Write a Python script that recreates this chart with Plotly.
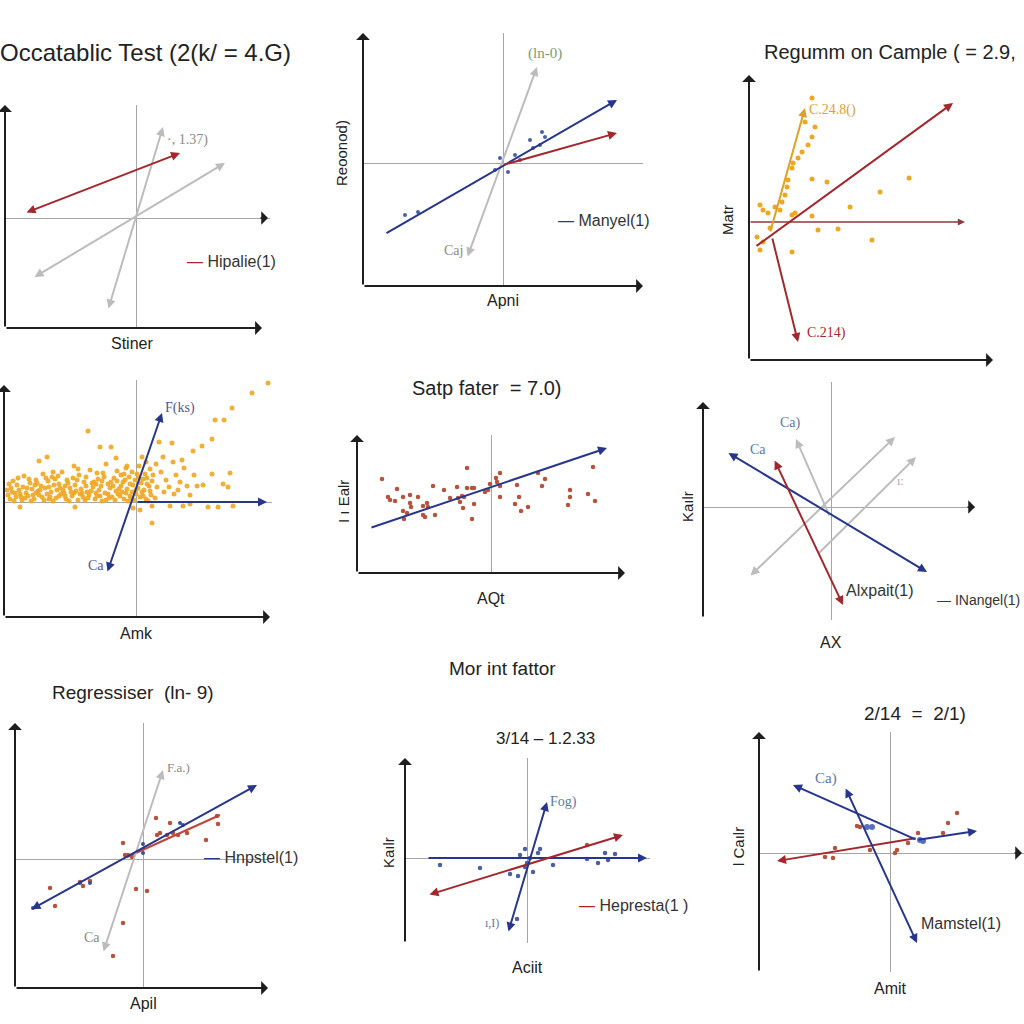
import plotly.graph_objects as go

W = H = 1024

# ---------------- DATA (each panel in its own units, origin at the crosshair) ----------------
# Panel 1
p1_red = [-111, 5, 44, 65]
p1_gray_a = [-28, -92, 27, 91]
p1_gray_b = [-103, -60, 89, 55]

# Panel 2
p2_blue = [-118, -71, 114, 63]
p2_red = [0, -2, 114, 30]
p2_gray = [-36, -95, 34, 96]
p2_pts_x = [-98, -85, 27, 37, 30, 42, 12, -3, 5, -8, 17, 39]
p2_pts_y = [-52, -49, 23, 18, 15, 26, 8, 5, -9, -7, 3, 31]

# Panel 3
p3_red_a = [-15, -25, 183, 119]
p3_red_b = [2, -15, 28, -120]
p3_red_h = [-21, 0, 195, 0]
p3_orange = [0, -11, 35, 114]
p3_pts_x = [42, 45, 42, 38, 32, 23, 22, 18, 17, 15, 42, 57, 110, 139, 80, -10, -7, -2, 10, 22,
            25, 42, 48, 68, 102, 22, -10, -7, 0, -13, 28, 35, 12, 5]
p3_pts_y = [124, 95, 85, 77, 70, 59, 54, 42, 35, 27, 43, 40, 30, 44, 15, 17, 12, 9, 12, 7,
            9, 6, -8, -7, -18, -30, -28, -20, -6, -15, 64, 100, 20, 15]

# Panel 4
p4_blue_h = [0, 0, 131, 0]
p4_blue_d = [-29, -71, 26, 89]
p4_points = [
    (-126, 3), (-120, 5), (-114, 2), (-108, 6), (-102, 3), (-97, 7), (-92, 2), (-86, 5), (-80, 4),
    (-75, 8), (-70, 3), (-64, 6), (-58, 2), (-53, 5), (-47, 7), (-41, 3), (-36, 6), (-30, 2),
    (-24, 5), (-18, 8), (-12, 3), (-6, 6), (-2, 2), (4, 5), (10, 3), (15, 7),
    (-124, 10), (-117, 12), (-110, 9), (-104, 13), (-98, 11), (-91, 14), (-85, 10), (-79, 12),
    (-72, 9), (-66, 14), (-60, 11), (-55, 13), (-49, 10), (-43, 15), (-37, 12), (-31, 9),
    (-26, 14), (-20, 11), (-15, 16), (-9, 13), (-4, 10), (2, 14), (8, 12), (13, 16),
    (-119, 17), (-106, 19), (-95, 16), (-88, 21), (-77, 18), (-69, 22), (-61, 17), (-52, 20),
    (-44, 19), (-38, 23), (-28, 18), (-22, 24), (-13, 20), (-7, 25), (-1, 22), (5, 19), (11, 24),
    (16, 21), (-112, 26), (-93, 28), (-74, 30), (-57, 27), (-46, 32), (-33, 29), (-19, 31),
    (-10, 34), (-4, 30), (3, 36), (9, 28), (14, 33),
    (132, 119), (116, 109), (96, 94), (79, 82), (88, 82), (76, 63), (66, 56), (57, 51), (46, 42),
    (37, 40), (27, 45), (23, 60), (36, 59), (94, 29), (92, 15), (87, 18), (76, 28), (67, 17),
    (61, 16), (51, 16), (42, 12), (54, 7),
    (-48, 71), (-36, 55), (-25, 55), (-97, 41), (-89, 45), (-83, 30), (-62, 36), (-39, 29), (-9, 36),
    (16, -21), (-61, -5), (-116, -5), (34, -4), (47, -4), (54, -2), (72, -5), (82, -5), (97, -4),
    (16, -4), (-3, -6), (4, -8),
    (25, 30), (30, 22), (40, 27), (48, 34), (20, 38), (33, 15), (44, 20), (58, 27), (28, 10), (38, 8),
    (-128, 7), (-122, 1), (-116, 8), (-111, 4), (-105, 1), (-100, 9), (-94, 5), (-89, 8), (-83, 1),
    (-77, 6), (-73, 12), (-67, 1), (-62, 9), (-56, 8), (-51, 2), (-45, 11), (-39, 6), (-34, 1),
    (-28, 8), (-21, 2), (-16, 6), (-10, 9), (-8, 1), (0, 8), (6, 10), (12, 1), (-125, 14),
    (-113, 15), (-101, 17), (-87, 15), (-81, 23), (-71, 16), (-63, 24), (-50, 16), (-40, 18),
    (-34, 21), (-25, 20), (-17, 13), (-11, 22), (-3, 17), (7, 23), (-58, 33), (-84, 25),
    (-100, 22), (-30, 38), (-15, 27), (1, 28), (10, 40), (6, 45), (-20, 44),
    (-129, 12), (-127, 18), (-123, 21), (-121, 9), (-118, 24), (-115, 5), (-109, 14), (-107, 23),
    (-103, 7), (-99, 19), (-96, 12), (-90, 24), (-87, 3), (-82, 17), (-78, 26), (-76, 14), (-71, 6),
    (-68, 19), (-65, 10), (-59, 22), (-54, 9), (-50, 25), (-48, 4), (-42, 20), (-40, 9), (-35, 16),
    (-32, 25), (-27, 4), (-23, 16), (-19, 21), (-14, 10), (-12, 28), (-6, 18), (-5, 4), (0, 12),
    (3, 24), (7, 6), (11, 18), (14, 11), (17, 27), (19, 4), (21, 15),
]
p4_pts_x = [p[0] for p in p4_points]
p4_pts_y = [p[1] for p in p4_points]

# Panel 5
p5_blue = [-121, -41, 116, 39]
p5_pts_x = [-109, -94, -103, -101, -96, -88, -81, -81, -80, -73, -88, -84, -87, -68, -64, -63, -68,
            -66, -56, -58, -47, -34, -41, -33, -29, -31, -27, -24, -24, -19, -17, -17, -28, -19,
            -6, -3, -1, 5, 9, 6, 9, 9, 26, 28, 24, 30, 37, 47, 54, 51, 79, 79, 77, 97, 102, 104]
p5_pts_y = [8, -2, -10, -13, -14, -10, -8, -16, -20, -10, -24, -26, -32, -19, -16, -20, -28,
            -30, -28, 1, -3, 0, -11, -11, -9, -15, -10, -1, 19, -1, -1, -17, -21, -32,
            -5, -3, 3, 9, 14, 5, 1, -10, 2, -10, -17, -24, -20, 14, 8, 1, -3, -10, -18, -7, 20, -14]

# Panel 6
p6_blue = [-104, 55, 96, -65]
p6_red = [-57, 48, 12, -98]
p6_gray_a = [-1, -10, -35, 68]
p6_gray_b = [-82, -70, 64, 70]
p6_gray_c = [-14, -48, 85, 50]

# Panel 7
p7_blue = [-113, -51, 114, 74]
p7_red = [-16, 2, 77, 44]
p7_gray = [-40, -94, 20, 89]
p7_red_x = [-93, -88, -60, -63, -53, -20, -18, -15, -11, -7, 4, -20, -30, 13, 14, 17, 24, 30, 35,
            63, 74, 75, 44, 27]
p7_red_y = [-29, -47, -27, -23, -22, 16, 4, 4, 2, -30, -32, -64, -97, 41, 24, 26, 24, 26, 24,
            19, 43, 35, 26, 36]
p7_blue_x = [-63, -53, 0, 0, 37, 40, -110]
p7_blue_y = [-24, -24, 15, 6, 36, 34, -49]

# Panel 8
p8_blue_h = [-100, 0, 120, 0]
p8_blue_d = [-19, -75, 20, 56]
p8_red = [-99, -37, 96, 23]
p8_pts_x = [-87, -47, -17, -9, -2, 13, 11, 0, 6, -2, 26, 60, 71, 78, 81, 88, -10, -7, 3]
p8_pts_y = [-7, -10, -16, -18, 9, 9, 5, -5, -14, -9, -7, -1, -5, 5, -2, 4, -61, 3, 0]
p8_red_x = [60]
p8_red_y = [13]

# Panel 9
p9_blue_a = [27, 13, -97, 68]
p9_blue_b = [27, 13, 87, 22]
p9_blue_c = [-45, 66, 27, -90]
p9_red = [27, 15, -113, -8]
p9_red_x = [-33, -30, -65, -57, -55, -20, 5, 7, 18, 28, 53, 58, 67]
p9_red_y = [27, 26, -4, -5, 5, 3, 0, 3, 10, 20, 20, 30, 40]
p9_blue_x = [-23, -18, 30, 33]
p9_blue_y = [26, 26, 13, 12]

# ---------------- LAYOUT (page pixels) ----------------
# (origin x, origin y, left, right, top, bottom)
PANELS = [
    (136, 218, 5, 270, 105, 328),
    (503, 163, 363, 643, 33, 286),
    (770, 222, 749, 993, 75, 360),
    (136, 502, 4, 272, 380, 617),
    (491, 487, 357, 627, 435, 573),
    (831, 507, 703, 975, 382, 620),
    (143, 859, 15, 268, 723, 988),
    (527, 858, 405, 650, 758, 943),
    (890, 853, 759, 1024, 732, 972),
]
# black axes: (y-axis x, y-axis bottom, y-axis tip, x-axis y or None, x-axis left, x-axis tip)
AXES = [
    (5, 328, 105, 328, 5, 262),
    (363, 286, 33, 286, 363, 643),
    (749, 360, 75, 360, 749, 993),
    (4, 617, 385, 617, 4, 270),
    (357, 573, 435, 573, 357, 625),
    (703, 618, 402, None, 0, 0),
    (15, 988, 723, 988, 15, 268),
    (405, 943, 758, None, 0, 0),
    (759, 972, 732, None, 0, 0),
]
ZERO_V = [True, True, False, True, True, True, True, True, True]
ZERO_H = [True, True, False, True, False, True, True, True, True]
# black heads on the horizontal crosshair (page px of tip)
CROSS_HEADS = {1: (268, 218), 6: (975, 507), 9: (1022, 853)}

RED = "#a3282e"
NAVY = "#27368c"
ORANGE = "#eea722"
GRAY = "#bcbcbc"
BLACK = "#1e1e1e"
CROSS = "#a6a6a6"
TXT = "#222222"
BRICK = "#b5533c"
BLUEGRAY = "#5b78a8"
SANS = "Liberation Sans, Arial, sans-serif"
SERIF = "Liberation Serif, Times New Roman, serif"

fig = go.Figure()


def ref(i):
    return ("x", "y") if i == 1 else (f"x{i}", f"y{i}")


def local(i, px, py):
    ox, oy = PANELS[i - 1][0], PANELS[i - 1][1]
    return px - ox, oy - py


def add_arrow(i, seg, color, width=2.0, both=False, head=2, size=0.9):
    xr, yr = ref(i)
    x0, y0, x1, y1 = seg
    fig.add_annotation(x=x1, y=y1, ax=x0, ay=y0, xref=xr, yref=yr, axref=xr, ayref=yr,
                       text="", showarrow=True, arrowhead=head, startarrowhead=head,
                       arrowside="end+start" if both else "end",
                       arrowsize=size, startarrowsize=size, arrowwidth=width,
                       arrowcolor=color, standoff=0, startstandoff=0)


def add_points(i, xs, ys, color, size=4.5, opacity=1.0):
    xr, yr = ref(i)
    fig.add_trace(go.Scatter(x=xs, y=ys, mode="markers", xaxis=xr, yaxis=yr,
                             marker=dict(color=color, size=size, opacity=opacity, line=dict(width=0)),
                             showlegend=False, hoverinfo="skip"))


def add_line(i, seg, color, width=2.0):
    xr, yr = ref(i)
    fig.add_trace(go.Scatter(x=[seg[0], seg[2]], y=[seg[1], seg[3]], mode="lines", xaxis=xr, yaxis=yr,
                             line=dict(color=color, width=width), showlegend=False, hoverinfo="skip"))


def text(px, py, s, size=16, color=TXT, family=SANS, anchor="center", angle=0):
    fig.add_annotation(x=px / W, y=1 - py / H, xref="paper", yref="paper", text=s, showarrow=False,
                       xanchor=anchor, yanchor="middle", textangle=angle,
                       font=dict(size=size, color=color, family=family))


# empty traces so every subplot exists
for i in range(1, 10):
    xr, yr = ref(i)
    fig.add_trace(go.Scatter(x=[None], y=[None], xaxis=xr, yaxis=yr, showlegend=False, hoverinfo="skip"))

# axes layout
for i, (ox, oy, l, r, t, b) in enumerate(PANELS, 1):
    suffix = "" if i == 1 else str(i)
    fig.layout["xaxis" + suffix] = dict(domain=[l / W, r / W], range=[l - ox, r - ox],
                                        showgrid=False, showticklabels=False, ticks="", showline=False,
                                        zeroline=ZERO_V[i - 1], zerolinecolor=CROSS, zerolinewidth=1.2,
                                        fixedrange=True, anchor="y" + suffix)
    fig.layout["yaxis" + suffix] = dict(domain=[1 - b / H, 1 - t / H], range=[oy - b, oy - t],
                                        showgrid=False, showticklabels=False, ticks="", showline=False,
                                        zeroline=ZERO_H[i - 1], zerolinecolor=CROSS, zerolinewidth=1.2,
                                        fixedrange=True, anchor="x" + suffix)

# black axis arrows
for i, (yx, yb, yt, xy, xl, xt) in enumerate(AXES, 1):
    x0, y0 = local(i, yx, yb)
    x1, y1 = local(i, yx, yt)
    add_arrow(i, [x0, y0, x1, y1], BLACK, width=2, head=1, size=1.15)
    if xy is not None:
        x0, y0 = local(i, xl, xy)
        x1, y1 = local(i, xt, xy)
        add_arrow(i, [x0, y0, x1, y1], BLACK, width=2, head=1, size=1.15)
for i, (tx, ty) in CROSS_HEADS.items():
    x1, y1 = local(i, tx, ty)
    add_arrow(i, [x1 - 9, y1, x1, y1], BLACK, width=1.5, head=1, size=1.5)

# ---- Panel 1
add_arrow(1, p1_gray_a, GRAY, both=True)
add_arrow(1, p1_gray_b, GRAY, both=True)
add_arrow(1, p1_red, RED, both=True)

# ---- Panel 2
add_arrow(2, p2_gray, GRAY, both=True)
add_arrow(2, p2_blue, NAVY)
add_arrow(2, p2_red, RED)
add_points(2, p2_pts_x, p2_pts_y, "#4a5fa8", size=4)

# ---- Panel 3
add_points(3, p3_pts_x, p3_pts_y, ORANGE, size=5)
add_arrow(3, p3_red_h, "#8c3a3e", width=1.6)
add_arrow(3, p3_orange, "#e0a020")
add_arrow(3, p3_red_a, RED)
add_arrow(3, p3_red_b, RED)

# ---- Panel 4
add_points(4, p4_pts_x, p4_pts_y, ORANGE, size=5, opacity=0.9)
add_arrow(4, p4_blue_h, NAVY)
add_arrow(4, p4_blue_d, NAVY, both=True)

# ---- Panel 5
add_points(5, p5_pts_x, p5_pts_y, BRICK, size=4.5)
add_arrow(5, p5_blue, NAVY)

# ---- Panel 6
add_arrow(6, p6_gray_a, GRAY)
add_arrow(6, p6_gray_b, GRAY, both=True)
add_arrow(6, p6_gray_c, GRAY)
add_arrow(6, p6_blue, NAVY, both=True)
add_arrow(6, p6_red, RED, both=True)

# ---- Panel 7
add_arrow(7, p7_gray, GRAY, both=True)
add_points(7, p7_red_x, p7_red_y, BRICK, size=4.5)
add_points(7, p7_blue_x, p7_blue_y, "#3a4fa0", size=4)
add_line(7, p7_red, "#c0453a", width=2)
add_arrow(7, p7_blue, NAVY, both=True)

# ---- Panel 8
add_points(8, p8_pts_x, p8_pts_y, "#4a5fa8", size=4.5)
add_points(8, p8_red_x, p8_red_y, BRICK, size=4.5)
add_arrow(8, p8_blue_h, NAVY)
add_arrow(8, p8_red, RED, both=True)
add_arrow(8, p8_blue_d, NAVY, both=True)

# ---- Panel 9
add_points(9, p9_red_x, p9_red_y, BRICK, size=4.5)
add_points(9, p9_blue_x, p9_blue_y, "#5a6fc0", size=6)
add_arrow(9, p9_red, RED)
add_arrow(9, p9_blue_a, NAVY)
add_arrow(9, p9_blue_b, NAVY)
add_arrow(9, p9_blue_c, NAVY, both=True)

# ---------------- TEXT ----------------
def dash(color):
    return f"<span style='color:{color}'>—</span> "

# Panel 1
text(293, 52, "Occatablic Test (2(k/ = 4.G)", size=24, anchor="right")
text(165, 140, "·, 1.37)", size=14, color="#8a8a8a", family=SERIF, anchor="left")
text(185, 261, dash(RED) + "Hipalie(1)", size=16, color="#333", anchor="left")
text(132, 343, "Stiner", size=16)
# Panel 2
text(545, 53, "(ln-0)", size=15, color="#7c9c6c", family=SERIF)
text(453, 250, "Caj", size=14, color="#8a8a8a", family=SERIF)
text(556, 220, dash(NAVY) + "Manyel(1)", size=16, color="#333", anchor="left")
text(341, 153, "Reoonod)", size=15, angle=-90)
text(503, 300, "Apni", size=16)
# Panel 3
text(762, 52, "Regumm on Cample ( = 2.9,", size=20, anchor="left")
text(807, 110, "C.24.8()", size=14, color="#e0a030", family=SERIF, anchor="left")
text(805, 333, "C.214)", size=14, color=RED, family=SERIF, anchor="left")
text(727, 220, "Matr", size=15, angle=-90)
# Panel 4
text(163, 408, "F(ks)", size=14, color="#4a5a9a", family=SERIF, anchor="left")
text(96, 565, "Ca", size=14, color="#4a5a9a", family=SERIF)
text(136, 633, "Amk", size=16)
# Panel 5
text(487, 388, "Satp fater  = 7.0)", size=20)
text(343, 502, "I ı Ealr", size=15, angle=-90)
text(491, 598, "AQt", size=16)
# Panel 6
text(790, 423, "Ca)", size=14, color=BLUEGRAY, family=SERIF)
text(758, 449, "Ca", size=14, color=BLUEGRAY, family=SERIF)
text(900, 481, "ı:", size=12, color="#aaaaaa", family=SERIF)
text(844, 590, "Alxpait(1)", size=16, color="#333", anchor="left")
text(935, 600, dash(NAVY) + "INangel(1)", size=14, color="#333", anchor="left")
text(687, 507, "Kaılr", size=15, angle=-90)
text(831, 642, "AX", size=16)
# Panel 7
text(133, 692, "Regressiser  (ln- 9)", size=19)
text(165, 767, "F.a.)", size=13, color="#8a8a8a", family=SERIF, anchor="left")
text(92, 937, "Ca", size=14, color="#8a8a8a", family=SERIF)
text(202, 857, dash(NAVY) + "Hnpstel(1)", size=16, color="#333", anchor="left")
text(143, 1003, "Apil", size=16)
# Panel 8
text(502, 668, "Mor int fattor", size=19)
text(545, 738, "3/14 – 1.2.33", size=17)
text(548, 802, "Fog)", size=14, color=BLUEGRAY, family=SERIF, anchor="left")
text(492, 923, "ı,I)", size=12, color=BLUEGRAY, family=SERIF)
text(577, 905, dash(RED) + "Hepresta(1 )", size=16, color="#333", anchor="left")
text(388, 853, "Kaılr", size=15, angle=-90)
text(527, 967, "Aciit", size=16)
# Panel 9
text(915, 713, "2/14  =  2/1)", size=19)
text(826, 778, "Ca)", size=15, color=BLUEGRAY, family=SERIF)
text(919, 923, "Mamstel(1)", size=16, color="#333", anchor="left")
text(738, 847, "l Caılr", size=15, angle=-90)
text(890, 988, "Amit", size=16)

fig.update_layout(width=W, height=H, margin=dict(l=0, r=0, t=0, b=0),
                  paper_bgcolor="white", plot_bgcolor="white", showlegend=False)

fig.write_html("out.html", config={"displayModeBar": False},
               post_script="document.body.style.margin='0px';document.body.style.overflow='hidden';")
